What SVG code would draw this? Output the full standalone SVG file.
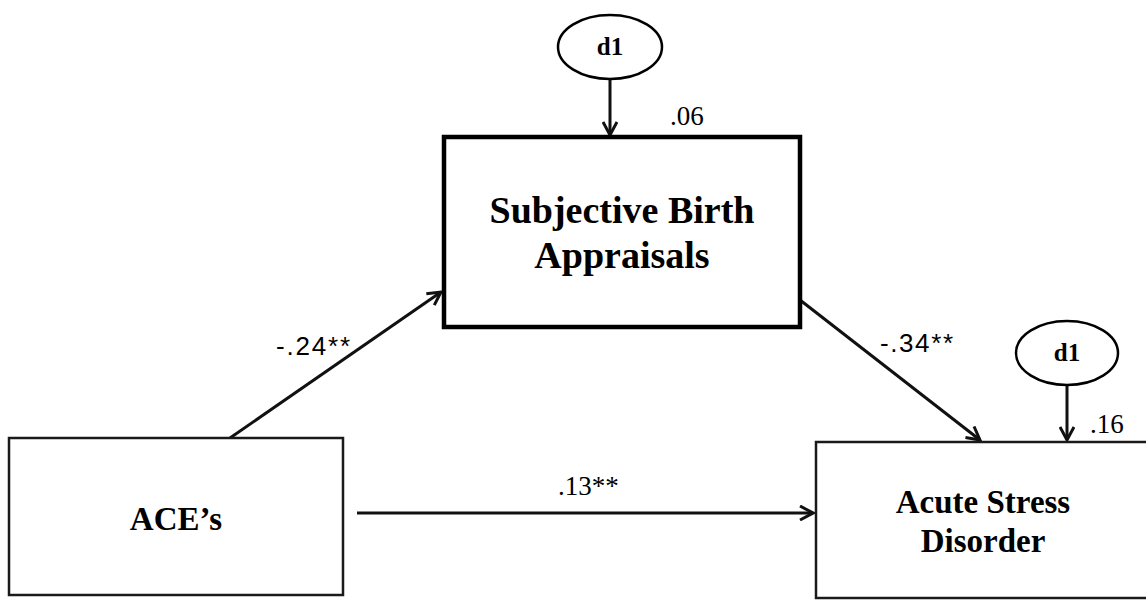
<svg xmlns="http://www.w3.org/2000/svg" width="1146" height="600" viewBox="0 0 1146 600">
<style>
.box{fill:#fff;stroke:#1a1a1a;stroke-width:2.5}
.bold{stroke-width:4.5;stroke:#000}
.ell{fill:#fff;stroke:#000;stroke-width:2.5}
.lbl{font-family:"Liberation Serif","Times New Roman",serif;font-weight:bold;fill:#000;text-anchor:middle}
.num{font-family:"Liberation Serif","Times New Roman",serif;font-size:27px;fill:#000}
.sans{font-family:"Liberation Sans",Arial,sans-serif;font-size:26px;fill:#000}
.conn{stroke:#111;stroke-width:3;fill:none}
</style>
<defs>
<marker id="arr" viewBox="0 0 16 16" refX="14" refY="8" markerWidth="16" markerHeight="16" markerUnits="userSpaceOnUse" orient="auto">
<path d="M1,1 L14,8 L1,15" fill="none" stroke="#111" stroke-width="3" stroke-linejoin="miter"/>
</marker>
</defs>
<rect width="1146" height="600" fill="#fff"/>
<g id="connectors">
<line class="conn" x1="610" y1="80" x2="610" y2="135" marker-end="url(#arr)"/>
<line class="conn" x1="1067" y1="385" x2="1067" y2="440" marker-end="url(#arr)"/>
<line class="conn" x1="230" y1="438" x2="441" y2="292" marker-end="url(#arr)"/>
<line class="conn" x1="800" y1="300" x2="980" y2="440" marker-end="url(#arr)"/>
<line class="conn" x1="357" y1="513" x2="813" y2="513" marker-end="url(#arr)"/>
<text class="sans" x="276" y="355" textLength="74" lengthAdjust="spacing">-.24**</text>
<text class="sans" x="880" y="352" textLength="73" lengthAdjust="spacing">-.34**</text>
<text class="num" x="558" y="495">.13**</text>
</g>
<g id="sba">
<rect class="box bold" x="444" y="137" width="356" height="190"/>
<text class="lbl" x="622" y="223" font-size="38">Subjective Birth</text>
<text class="lbl" x="622" y="268" font-size="38">Appraisals</text>
<text class="num" x="670" y="125">.06</text>
</g>
<g id="aces">
<rect class="box" x="9" y="438" width="334" height="157"/>
<text class="lbl" x="176" y="530" font-size="33">ACE’s</text>
</g>
<g id="asd">
<rect class="box" x="816" y="442" width="340" height="156"/>
<text class="lbl" x="983" y="513" font-size="33">Acute Stress</text>
<text class="lbl" x="983" y="552" font-size="33">Disorder</text>
<text class="num" x="1090" y="433">.16</text>
</g>
<g id="d1a">
<ellipse class="ell" cx="610" cy="47" rx="52" ry="32"/>
<text class="lbl" x="610" y="55" font-size="25">d1</text>
</g>
<g id="d1b">
<ellipse class="ell" cx="1067" cy="353" rx="51" ry="32"/>
<text class="lbl" x="1067" y="361" font-size="25">d1</text>
</g>
</svg>
